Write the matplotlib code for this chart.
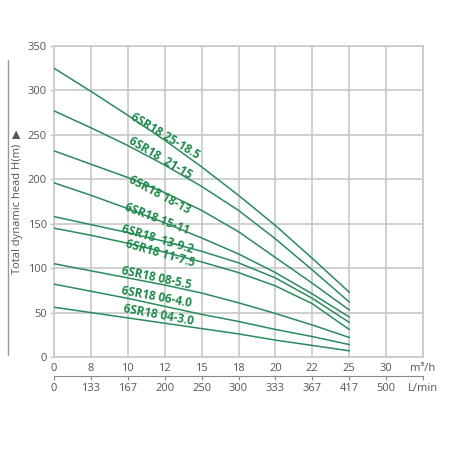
import numpy as np
from matplotlib import pyplot as plt
from matplotlib.lines import Line2D

plt.rcParams['font.family'] = ['Open Sans', 'DejaVu Sans']

# flow tick labels (equally spaced on the chart)
flow_m3h = ['0', '8', '10', '12', '15', '18', '20', '22', '25', '30', 'm\u00b3/h']
flow_lmin = ['0', '133', '167', '200', '250', '300', '333', '367', '417', '500', 'L/min']

# head values at flow ticks 0 .. 25 m3/h
models = ['6SR18 25-18.5', '6SR18  21-15', '6SR18 18-13', '6SR18 15-11',
          '6SR18  13-9.2', '6SR18 11-7.5', '6SR18 08-5.5', '6SR18 06-4.0',
          '6SR18 04-3.0']
head_25_185 = [325, 299, 272, 244, 214, 182, 148, 111, 73]
head_21_15 = [277, 258, 238, 216, 192, 165, 133, 98, 62]
head_18_13 = [232, 217, 202, 185, 165, 141, 112, 83, 53]
head_15_11 = [196, 182, 167, 151, 134, 116, 95, 71, 45]
head_13_92 = [158, 149, 140, 130, 119, 106, 89, 66, 39]
head_11_75 = [145, 137, 128, 118, 107, 95, 80, 60, 31]
head_08_55 = [105, 97, 89, 81, 72, 61, 49, 36, 22]
head_06_40 = [82, 74, 66, 57, 48, 40, 31, 23, 14]
head_04_30 = [56, 50, 44, 38, 32, 26, 19, 13, 7]
heads = [head_25_185, head_21_15, head_18_13, head_15_11, head_13_92,
         head_11_75, head_08_55, head_06_40, head_04_30]

# label placement (x index, head, angle)
label_pos = [(3.01, 249, 31), (2.89, 224, 30.5), (2.87, 182, 28),
             (2.80, 155, 21), (2.80, 133, 16.5), (2.87, 117, 16),
             (2.78, 89, 12), (2.79, 68, 10.5), (2.82, 47, 10.5)]

fig = plt.figure(figsize=(4.5, 4.5), dpi=100)
ax = fig.add_axes([54/450, 93/450, 369/450, 311/450])

grid_c = '#c8c8c8'
text_c = '#555555'

for h in heads:
    ax.plot(np.arange(len(h)), h, color='#2b8a5e', lw=1.1, zorder=3)

for name, (lx, ly, ang) in zip(models, label_pos):
    ax.text(lx, ly, name, rotation=-ang, rotation_mode='anchor',
            ha='center', va='center', fontsize=8.5, fontweight='bold',
            color='#1d8a4a', zorder=4)

ax.set_xlim(0, 10)
ax.set_ylim(0, 350)
ax.set_xticks(np.arange(len(flow_m3h)))
ax.set_xticklabels(flow_m3h)
ax.set_yticks(np.arange(0, 351, 50))
ax.grid(True, color=grid_c, lw=1.2, zorder=0)
for s in ax.spines.values():
    s.set_color(grid_c)
    s.set_linewidth(1.2)
ax.tick_params(axis='x', length=0, pad=4, labelsize=8, labelcolor=text_c)
ax.tick_params(axis='y', length=3, width=1, color=grid_c, pad=2,
               labelsize=8, labelcolor=text_c)

sec = ax.secondary_xaxis(-0.062)
sec.set_xticks(np.arange(len(flow_lmin)))
sec.set_xticklabels(flow_lmin)
sec.spines['bottom'].set_color('#888888')
sec.tick_params(axis='x', length=3, color='#888888', pad=2,
                labelsize=8, labelcolor=text_c)

ax.set_ylabel('Total dynamic head H(m)  \u25b6', fontsize=8, color=text_c)
ax.yaxis.set_label_coords(-0.083, 0.5)

fig.add_artist(Line2D([8/450, 8/450], [1 - 60/450, 1 - 355/450],
                      transform=fig.transFigure, color='#999999', lw=1))

plt.savefig('out.png', dpi=100)
